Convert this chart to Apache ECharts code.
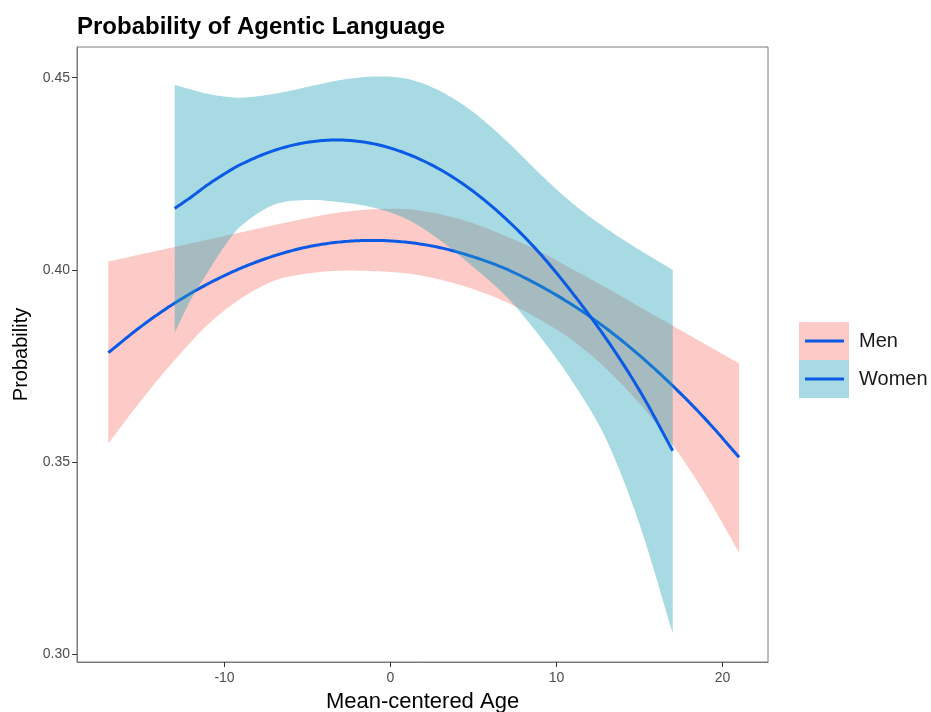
<!DOCTYPE html>
<html><head><meta charset="utf-8">
<script src="https://cdn.jsdelivr.net/npm/echarts@6/dist/echarts.min.js"></script>
<style>html,body{margin:0;padding:0;background:#fff}#c{width:931px;height:712px}</style>
</head><body><div id="c"></div>
<script>
// ---- data ----
const menX     = [-17, -15, -13, -11, -9, -7, -5, -3, -1, 1, 3, 5, 7, 9, 11, 13, 15, 17, 19, 21];
const menFit   = [0.3785, 0.3854, 0.3914, 0.3964, 0.4005, 0.4037, 0.4060, 0.4073, 0.4077, 0.4072, 0.4058, 0.4034, 0.4002, 0.3959, 0.3908, 0.3848, 0.3778, 0.3699, 0.3611, 0.3513];
const menLower = [0.3549, 0.3662, 0.3766, 0.3858, 0.3926, 0.3972, 0.3991, 0.3998, 0.3997, 0.3991, 0.3975, 0.3950, 0.3916, 0.3871, 0.3816, 0.3743, 0.3653, 0.3545, 0.3415, 0.3265];
const menUpper = [0.4022, 0.4041, 0.4060, 0.4079, 0.4098, 0.4117, 0.4135, 0.4150, 0.4158, 0.4158, 0.4145, 0.4121, 0.4087, 0.4048, 0.4001, 0.3954, 0.3904, 0.3855, 0.3806, 0.3757];

const womenX     = [-13, -12, -11, -10, -9, -7, -5, -3, -1, 1, 3, 5, 7, 9, 11, 13, 15, 17];
const womenFit   = [0.4160, 0.4190, 0.4222, 0.4250, 0.4275, 0.4311, 0.4332, 0.4338, 0.4328, 0.4302, 0.4261, 0.4204, 0.4131, 0.4043, 0.3938, 0.3821, 0.3687, 0.3530];
const womenLower = [0.3837, 0.3925, 0.3995, 0.4062, 0.4115, 0.4170, 0.4182, 0.4176, 0.4162, 0.4132, 0.4077, 0.4007, 0.3930, 0.3827, 0.3707, 0.3559, 0.3339, 0.3055];
const womenUpper = [0.4481, 0.4469, 0.4458, 0.4451, 0.4448, 0.4458, 0.4476, 0.4494, 0.4503, 0.4497, 0.4465, 0.4410, 0.4335, 0.4250, 0.4172, 0.4108, 0.4052, 0.4000];

const xTicks = [-10, 0, 10, 20];
const yTicks = [0.30, 0.35, 0.40, 0.45];
const groups = ['Men', 'Women'];

// ---- styling ----
const FONT = 'Liberation Sans, Arial, Helvetica, sans-serif';
const PINK = 'rgba(250,125,115,0.4)';
const TEAL = 'rgba(35,162,182,0.4)';
const BLUE = '#0a5ae6';

// cubic Hermite through pixel points (curve drawing only)
function hermite(pts, steps) {
  const n = pts.length, m = [];
  for (let i = 0; i < n; i++) {
    const a = pts[Math.max(0, i - 1)], b = pts[Math.min(n - 1, i + 1)];
    m.push((b[1] - a[1]) / (b[0] - a[0]));
  }
  const out = [];
  for (let i = 0; i < n - 1; i++) {
    const p = pts[i], q = pts[i + 1], h = q[0] - p[0];
    for (let s = 0; s < steps; s++) {
      const t = s / steps, t2 = t * t, t3 = t2 * t;
      const y = (2*t3 - 3*t2 + 1) * p[1] + (t3 - 2*t2 + t) * h * m[i] + (-2*t3 + 3*t2) * q[1] + (t3 - t2) * h * m[i + 1];
      out.push([p[0] + t * h, y]);
    }
  }
  out.push(pts[n - 1]);
  return out;
}

function band(name, xs, lo, hi, color) {
  return {
    name: name, type: 'custom', color: color, silent: true,
    data: xs.map((x, i) => [x, lo[i], hi[i]]),
    encode: { x: 0, y: [1, 2] },
    renderItem: function (params, api) {
      if (params.dataIndex !== 0) return;
      const up = xs.map((x, i) => api.coord([x, hi[i]]));
      const dn = xs.map((x, i) => api.coord([x, lo[i]]));
      const pts = hermite(up, 16).concat(hermite(dn, 16).reverse());
      return { type: 'polygon', shape: { points: pts }, style: { fill: color } };
    }
  };
}
function fitLine(name, xs, ys) {
  return {
    name: name, type: 'custom', color: BLUE, silent: true,
    data: xs.map((x, i) => [x, ys[i]]),
    encode: { x: 0, y: 1 },
    renderItem: function (params, api) {
      if (params.dataIndex !== 0) return;
      const pts = hermite(xs.map((x, i) => api.coord([x, ys[i]])), 16);
      return { type: 'polyline', shape: { points: pts },
        style: { stroke: BLUE, lineWidth: 3, fill: null, lineCap: 'butt', lineJoin: 'round' } };
    }
  };
}

const chart = echarts.init(document.getElementById('c'), null, { renderer: 'canvas' });
chart.setOption({
  animation: false,
  backgroundColor: '#ffffff',
  textStyle: { fontFamily: FONT },
  title: {
    text: 'Probability of Agentic Language', left: 72, top: 10,
    textStyle: { fontSize: 24, fontWeight: 'bold', color: '#000', fontFamily: FONT }
  },
  grid: { left: 77, right: 163, top: 47, bottom: 50, outerBoundsMode: 'none', containLabel: false,
    show: true, borderColor: '#7a7a7a', borderWidth: 1, backgroundColor: 'transparent' },
  legend: {
    orient: 'vertical', left: 799, top: 322, padding: 0, itemGap: 0,
    itemWidth: 50, itemHeight: 38, selectedMode: false,
    data: [
      { name: groups[0], icon: 'rect', itemStyle: { color: '#fdcbc7' } },
      { name: groups[1], icon: 'rect', itemStyle: { color: '#a7dae2' } }
    ],
    textStyle: { fontSize: 20, color: '#1a1a1a', fontFamily: FONT, padding: [0, 0, 0, 5] }
  },
  graphic: [
    { type: 'line', z: 100, shape: { x1: 805, y1: 341, x2: 844, y2: 341 }, style: { stroke: BLUE, lineWidth: 3 } },
    { type: 'line', z: 100, shape: { x1: 805, y1: 379, x2: 844, y2: 379 }, style: { stroke: BLUE, lineWidth: 3 } }
  ],
  xAxis: {
    type: 'value', min: -18.886, max: 22.74,
    name: 'Mean-centered Age', nameLocation: 'middle', nameGap: 29,
    nameTextStyle: { fontSize: 22, color: '#000', fontFamily: FONT },
    axisLine: { show: true, onZero: false, lineStyle: { color: '#7a7a7a', width: 1 } },
    axisTick: { show: true, length: 5, customValues: xTicks, lineStyle: { color: '#333' } },
    axisLabel: { customValues: xTicks, fontSize: 14, color: '#4d4d4d', margin: 9, fontFamily: FONT },
    splitLine: { show: false }
  },
  yAxis: {
    type: 'value', min: 0.29808, max: 0.45798,
    name: 'Probability', nameLocation: 'middle', nameGap: 45, nameRotate: 90,
    nameTextStyle: { fontSize: 20, color: '#000', fontFamily: FONT },
    axisLine: { show: true, onZero: false, lineStyle: { color: '#7a7a7a', width: 1 } },
    axisTick: { show: true, length: 5, customValues: yTicks, lineStyle: { color: '#333' } },
    axisLabel: { customValues: yTicks, fontSize: 14, color: '#4d4d4d', margin: 7, fontFamily: FONT,
      formatter: v => v.toFixed(2) },
    splitLine: { show: false }
  },
  series: [
    band(groups[0], menX, menLower, menUpper, PINK),
    fitLine('Men fit', menX, menFit),
    band(groups[1], womenX, womenLower, womenUpper, TEAL),
    fitLine('Women fit', womenX, womenFit)
  ]
});
</script>
</body></html>
